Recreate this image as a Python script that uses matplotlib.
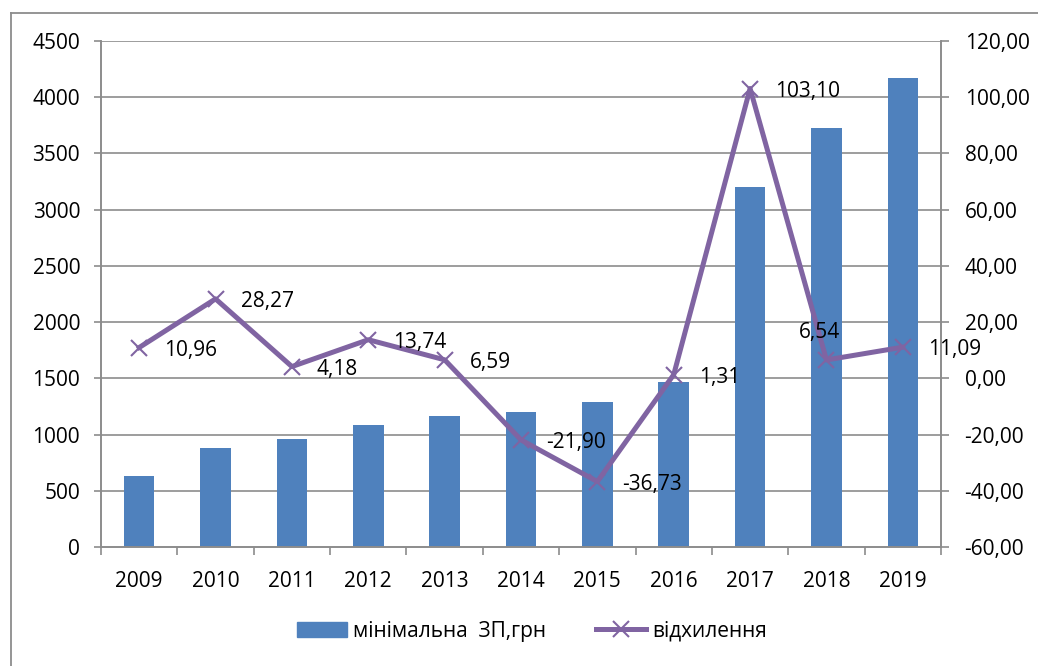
import matplotlib
matplotlib.use("Agg")
import matplotlib.pyplot as plt
import numpy as np
from matplotlib.lines import Line2D
from matplotlib.patches import Patch

years = ["2009", "2010", "2011", "2012", "2013", "2014", "2015", "2016", "2017", "2018", "2019"]
wage = [632, 877, 958, 1087, 1162, 1198, 1290, 1468, 3200, 3723, 4173]
deviation = [10.96, 28.27, 4.18, 13.74, 6.59, -21.90, -36.73, 1.31, 103.10, 6.54, 11.09]
left_ticks = list(range(0, 4501, 500))
right_ticks = list(range(-60, 121, 20))

plt.rcParams['font.family'] = ['Open Sans', 'DejaVu Sans']
fs = 15

fig = plt.figure(figsize=(10.38, 6.66), dpi=100)
ax = fig.add_axes([101/1038, 1-547/666, (941-101)/1038, (547-41)/666])
x = np.arange(len(years))
bar_col = '#4F81BD'
line_col = '#8064A2'
grid_col = '#8C8C8C'

ax.bar(x, wage, width=0.4, color=bar_col, zorder=2)
ax.set_ylim(0, 4500)
ax.set_xlim(-0.5, len(years)-0.5)
ax.set_yticks(left_ticks)
ax.set_yticklabels([str(v) for v in left_ticks], fontsize=fs)
for v in left_ticks[1:]:
    ax.axhline(v, color=grid_col, lw=1.2, zorder=1)
ax.set_xticks(x)
ax.set_xticklabels(years, fontsize=fs)
ax.tick_params(axis='x', length=0, pad=17)
ax.set_xticks(np.arange(-0.5, len(years)), minor=True)
ax.tick_params(axis='x', which='minor', length=6, color=grid_col, width=1.2)
ax.tick_params(axis='y', length=5, color=grid_col, width=1.2, pad=10)
for s in ['top']:
    ax.spines[s].set_visible(False)
for s in ['left', 'right', 'bottom']:
    ax.spines[s].set_color(grid_col)
    ax.spines[s].set_linewidth(1.2)

ax2 = ax.twinx()
ax2.set_ylim(-60, 120)
ax2.set_yticks(right_ticks)
ax2.set_yticklabels([f"{v:.2f}".replace('.', ',') for v in right_ticks], fontsize=fs)
ax2.tick_params(axis='y', length=6, color=grid_col, width=1.2, pad=11)
for s in ['top']:
    ax2.spines[s].set_visible(False)
for s in ['left', 'right', 'bottom']:
    ax2.spines[s].set_color(grid_col)
    ax2.spines[s].set_linewidth(1.2)
ax2.plot(x, deviation, color=line_col, lw=3.6, marker='x', markersize=12,
         markeredgewidth=1.5, zorder=3)

for i, v in enumerate(deviation):
    lab = f"{v:.2f}".replace('.', ',')
    if years[i] == "2018":
        ax2.annotate(lab, (i, v), xytext=(-5, 12), textcoords='offset points',
                     ha='center', va='bottom', fontsize=fs)
    else:
        ax2.annotate(lab, (i, v), xytext=(18, -2), textcoords='offset points',
                     ha='left', va='center', fontsize=fs)

handles = [Patch(color=bar_col), Line2D([], [], color=line_col, lw=3.6, marker='x',
                                         markersize=12, markeredgewidth=1.5)]
fig.legend(handles, ["мінімальна  ЗП,грн", "відхилення"], loc='center',
           bbox_to_anchor=(532/1038, 1-631/666), ncol=2, frameon=False, fontsize=fs,
           handlelength=2.4, columnspacing=2.4, handletextpad=0.3)

# outer chart border
fig.add_artist(Line2D([11/1038, 11/1038], [0, 1-12.5/666], color=grid_col, lw=1.3))
fig.add_artist(Line2D([11/1038, 1], [1-12.5/666, 1-12.5/666], color=grid_col, lw=1.3))

fig.savefig("out.png", dpi=100)
